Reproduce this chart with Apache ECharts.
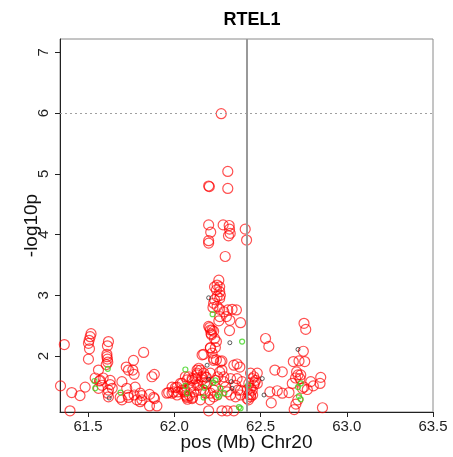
<!DOCTYPE html>
<html>
<head>
<meta charset="utf-8">
<script src="https://cdn.jsdelivr.net/npm/echarts@6/dist/echarts.min.js"></script>
<style>
  html, body { margin: 0; padding: 0; background: #fff; }
  #chart { width: 453px; height: 457px; }
</style>
</head>
<body>
<div id="chart"></div>
<script>
// position (Mb) / -log10p
const redSnps = [
  [61.362, 2.19], [61.517, 2.37], [61.512, 2.32], [61.506, 2.26], [61.502, 2.21], [61.508, 2.12],
  [61.502, 1.95], [61.618, 2.24], [61.612, 2.17], [61.609, 2.03], [61.609, 1.99], [61.612, 1.95],
  [61.614, 1.90], [61.605, 1.86], [61.763, 1.93], [61.822, 2.06], [61.560, 1.77], [61.541, 1.64],
  [61.566, 1.59], [61.483, 1.49], [61.628, 1.53], [61.618, 1.44], [61.614, 1.39], [61.618, 1.33],
  [61.560, 1.47], [61.580, 1.52], [61.721, 1.82], [61.734, 1.77], [61.767, 1.70], [61.773, 1.49],
  [61.731, 1.36], [61.767, 1.36], [61.812, 1.35], [61.453, 1.35], [61.405, 1.40], [61.802, 1.25],
  [61.395, 1.10], [61.696, 1.28], [61.340, 1.51], [61.696, 1.58], [61.724, 1.47], [61.686, 1.32],
  [61.734, 1.32], [61.783, 1.28], [61.802, 1.39], [61.759, 1.77], [61.870, 1.66], [61.884, 1.70],
  [61.856, 1.37], [61.880, 1.32], [61.885, 1.30], [61.856, 1.18], [61.899, 1.18], [61.812, 1.28],
  [61.570, 1.60], [61.587, 1.64], [61.628, 1.60], [61.640, 1.47],
  [61.967, 1.40], [61.987, 1.39], [62.006, 1.48], [62.016, 1.36], [62.021, 1.41], [62.045, 1.44],
  [62.064, 1.66], [62.074, 1.61], [62.058, 1.44], [62.074, 1.32], [62.076, 1.29], [62.103, 1.30],
  [62.093, 1.49], [62.106, 1.32], [62.161, 2.02], [62.151, 1.77], [62.132, 1.69], [62.161, 1.66],
  [62.161, 1.61], [62.170, 1.44], [62.132, 1.72], [62.170, 1.72], [62.186, 1.65], [62.176, 1.56],
  [62.180, 1.39], [62.209, 1.39], [62.142, 1.80], [62.064, 1.36], [61.996, 1.41], [61.957, 1.39],
  [62.016, 1.49], [62.103, 1.60], [62.122, 1.63], [62.132, 1.52], [62.151, 1.44], [62.112, 1.41],
  [62.058, 1.41], [62.070, 1.34], [62.112, 1.52], [62.151, 1.28], [62.205, 1.28], [62.199, 1.10],
  [62.205, 2.47], [62.219, 2.43], [62.215, 2.35], [62.209, 2.13], [62.228, 1.93], [62.248, 1.36],
  [62.258, 3.25], [62.248, 3.17], [62.263, 3.14], [62.233, 3.14], [62.244, 3.09], [62.263, 3.06],
  [62.267, 3.00], [62.248, 2.98], [62.233, 2.93], [62.263, 2.95], [62.228, 2.87], [62.248, 2.82],
  [62.224, 2.80], [62.263, 2.77], [62.287, 2.73], [62.310, 2.76], [62.335, 2.77], [62.360, 2.76],
  [62.263, 2.65], [62.258, 2.58], [62.302, 2.65], [62.322, 2.59], [62.384, 2.55], [62.199, 2.49],
  [62.209, 2.43], [62.228, 2.41], [62.213, 2.37], [62.320, 2.42], [62.233, 2.29], [62.244, 2.24],
  [62.209, 2.14], [62.238, 2.14], [62.219, 2.05], [62.170, 2.03], [62.228, 1.96], [62.276, 1.92],
  [62.364, 1.87], [62.380, 1.82], [62.132, 1.77], [62.180, 1.66], [62.263, 1.74], [62.252, 1.66],
  [62.287, 1.58], [62.355, 1.52], [62.368, 1.44], [62.384, 1.36], [62.326, 1.36], [62.355, 1.33],
  [62.306, 1.10], [62.345, 1.10], [62.103, 1.63], [62.238, 1.60], [62.238, 1.49], [62.295, 3.64],
  [62.272, 5.99], [62.310, 5.04], [62.199, 4.80], [62.203, 4.79], [62.310, 4.76], [62.199, 4.16],
  [62.211, 4.04], [62.199, 3.90], [62.199, 3.86], [62.283, 4.16], [62.318, 4.15], [62.320, 4.09],
  [62.314, 3.98], [62.324, 4.02], [62.411, 4.09], [62.419, 3.91],
  [62.267, 1.91], [62.345, 1.85], [62.209, 1.72], [62.276, 1.77], [62.287, 1.66], [62.326, 1.63],
  [62.364, 1.63], [62.393, 1.58], [62.083, 1.66], [62.035, 1.55], [61.987, 1.49], [62.190, 1.55],
  [62.228, 1.44], [62.296, 1.49], [62.306, 1.41], [62.384, 1.44], [62.276, 1.10], [62.244, 1.94],
  [62.228, 1.33], [62.140, 1.52], [62.088, 1.35], [62.045, 1.55],
  [62.442, 1.72], [62.452, 1.63], [62.432, 1.55], [62.461, 1.52], [62.452, 1.44], [62.442, 1.36],
  [62.471, 1.60], [62.465, 1.56], [62.461, 1.66], [62.422, 1.44], [62.442, 1.47], [62.432, 1.37],
  [62.442, 1.33], [62.422, 1.30], [62.430, 1.28], [62.481, 1.72], [62.481, 1.55], [62.454, 1.36],
  [62.529, 2.29], [62.548, 2.16], [62.752, 2.54], [62.762, 2.44], [62.748, 2.08], [62.583, 1.77],
  [62.626, 1.74], [62.690, 1.91], [62.723, 1.92], [62.756, 1.91], [62.709, 1.74], [62.717, 1.69],
  [62.729, 1.63], [62.742, 1.47], [62.752, 1.49], [62.771, 1.45], [62.791, 1.58], [62.806, 1.51],
  [62.849, 1.65], [62.845, 1.55], [62.859, 1.15], [62.684, 1.55], [62.665, 1.40], [62.626, 1.39],
  [62.597, 1.43], [62.554, 1.41], [62.562, 1.23], [62.716, 1.28], [62.705, 1.21], [62.695, 1.12],
  [62.703, 1.64], [62.733, 1.69]
];
const greenSnps = [
  [61.614, 1.79], [61.537, 1.59], [61.541, 1.47], [61.688, 1.40], [62.064, 1.78], [62.064, 1.51],
  [62.074, 1.39], [62.170, 1.32], [62.174, 1.48], [62.238, 1.60], [62.258, 1.33], [62.267, 1.47],
  [62.290, 1.39], [62.222, 2.69], [62.393, 2.24], [62.224, 1.56], [62.252, 1.36], [62.375, 1.16],
  [62.428, 1.52], [62.733, 1.55], [62.717, 1.49], [62.723, 1.34], [62.733, 1.29], [62.384, 1.14]
];
const blackSnps = [
  [61.622, 1.31], [62.190, 1.85], [62.199, 1.62], [62.199, 2.96], [62.322, 2.22], [62.330, 1.58],
  [62.335, 1.47], [62.717, 2.11], [62.510, 1.63], [62.520, 1.36]
];
const xTicks = [61.5, 62.0, 62.5, 63.0, 63.5];
const yTicks = [2, 3, 4, 5, 6, 7];
const genePos = 62.424;
const threshold = 6;

const font = 'Liberation Sans, Arial, Helvetica, sans-serif';
const chart = echarts.init(document.getElementById('chart'));

const option = {
  animation: false,
  title: {
    text: 'RTEL1',
    left: 247,
    top: 6,
    textAlign: 'center',
    textStyle: { fontFamily: font, fontSize: 18, fontWeight: 'bold', color: '#000' },
  },
  grid: {
    left: 60,
    right: 20,
    top: 39,
    bottom: 45,
    show: true,
    borderColor: '#8a8a8a',
    borderWidth: 1,
    backgroundColor: 'transparent',
  },
  xAxis: {
    type: 'value',
    min: 61.337,
    max: 63.5,
    name: 'pos (Mb) Chr20',
    nameLocation: 'middle',
    nameGap: 21,
    nameMoveOverlap: false,
    nameTextStyle: { fontFamily: font, fontSize: 19, color: '#111' },
    axisLine: { show: true, lineStyle: { color: '#222', width: 1 } },
    axisTick: { show: true, length: 5, customValues: xTicks, lineStyle: { color: '#222' } },
    axisLabel: {
      customValues: xTicks,
      margin: 7,
      fontFamily: font,
      fontSize: 15,
      color: '#222',
      formatter: (v) => v.toFixed(1),
    },
    splitLine: { show: false },
  },
  yAxis: {
    type: 'value',
    min: 1.08,
    max: 7.22,
    name: '-log10p',
    nameLocation: 'middle',
    nameRotate: 90,
    nameGap: 19,
    nameMoveOverlap: false,
    nameTextStyle: { fontFamily: font, fontSize: 19, color: '#111' },
    axisLine: { show: true, lineStyle: { color: '#222', width: 1 } },
    axisTick: { show: true, length: 5, customValues: yTicks, lineStyle: { color: '#222' } },
    axisLabel: {
      customValues: yTicks,
      rotate: 90,
      margin: 9,
      fontFamily: font,
      fontSize: 15,
      color: '#222',
    },
    splitLine: { show: false },
  },
  series: [
    {
      type: 'scatter',
      data: redSnps,
      symbol: 'circle',
      symbolSize: 10,
      itemStyle: { color: 'rgba(255,255,255,0)', borderColor: 'rgba(255,0,0,0.85)', borderWidth: 1.2 },
      markLine: {
        silent: true,
        symbol: 'none',
        label: { show: false },
        data: [
          { yAxis: threshold, lineStyle: { color: '#a0a0a0', type: [2, 3], width: 1 } },
          { xAxis: genePos, lineStyle: { color: '#999', type: 'solid', width: 2 } },
        ],
      },
    },
    {
      type: 'scatter',
      data: blackSnps,
      symbol: 'circle',
      symbolSize: 4,
      itemStyle: { color: 'rgba(255,255,255,0)', borderColor: '#333', borderWidth: 1 },
    },
    {
      type: 'scatter',
      data: greenSnps,
      symbol: 'circle',
      symbolSize: 5,
      itemStyle: { color: 'rgba(255,255,255,0)', borderColor: '#3fd41f', borderWidth: 1.2 },
    },
  ],
};

chart.setOption(option);
</script>
</body>
</html>
